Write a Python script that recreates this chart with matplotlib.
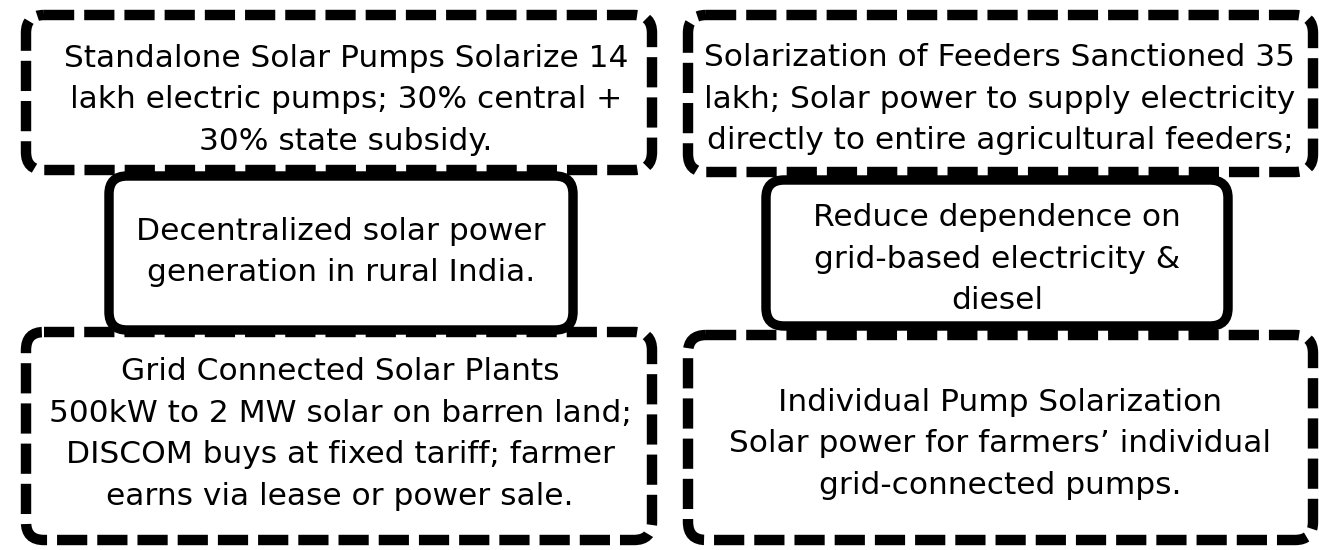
import matplotlib
matplotlib.use("Agg")
import matplotlib.pyplot as plt
from matplotlib.patches import FancyBboxPatch

# box texts
dashed_texts = [
	"Standalone Solar Pumps Solarize 14\nlakh electric pumps; 30% central +\n30% state subsidy.",
	"Solarization of Feeders Sanctioned 35\nlakh; Solar power to supply electricity\ndirectly to entire agricultural feeders;",
	"Grid Connected Solar Plants\n500kW to 2 MW solar on barren land;\nDISCOM buys at fixed tariff; farmer\nearns via lease or power sale.",
	"Individual Pump Solarization\nSolar power for farmers\u2019 individual\ngrid-connected pumps.",
]
solid_texts = [
	"Decentralized solar power\ngeneration in rural India.",
	"Reduce dependence on\ngrid-based electricity &\ndiesel",
]

# layout in pixels: (x0, y0, x1, y1), y down
dashed_boxes = [(26, 15, 652, 170), (688, 15, 1313, 172), (26, 332, 652, 540), (688, 335, 1313, 540)]
solid_boxes = [(109, 176, 573, 330), (766, 180, 1228, 326)]
dashed_text_pos = [(346, 100), (1000, 99), (340, 434), (1000, 444)]
solid_text_pos = [(341, 252), (997, 259)]

W, H = 1319, 550
fig = plt.figure(figsize=(W / 100, H / 100), dpi=100)
ax = fig.add_axes([0, 0, 1, 1])
ax.set_xlim(0, W)
ax.set_ylim(H, 0)
ax.axis("off")

lw = 7.5
font = "DejaVu Sans"
fs = 22.5

def add_box(box, style, width, z):
	x0, y0, x1, y1 = box
	p = FancyBboxPatch((x0, y0), x1 - x0, y1 - y0,
		boxstyle="round,pad=0,rounding_size=18",
		facecolor="white", edgecolor="black", linewidth=width,
		linestyle=style, zorder=z)
	ax.add_patch(p)

for box in dashed_boxes:
	add_box(box, (0, (2.9, 0.96)), lw, 1)
for box in solid_boxes:
	add_box(box, "-", 6.8, 2)

for (x, y), t in zip(dashed_text_pos, dashed_texts):
	ax.text(x, y, t, ha="center", va="center", multialignment="center",
		fontsize=fs, family=font, linespacing=1.55, zorder=3)
for (x, y), t in zip(solid_text_pos, solid_texts):
	ax.text(x, y, t, ha="center", va="center", multialignment="center",
		fontsize=fs, family=font, linespacing=1.55, zorder=3)

fig.savefig("out.png", dpi=100, facecolor="white")
